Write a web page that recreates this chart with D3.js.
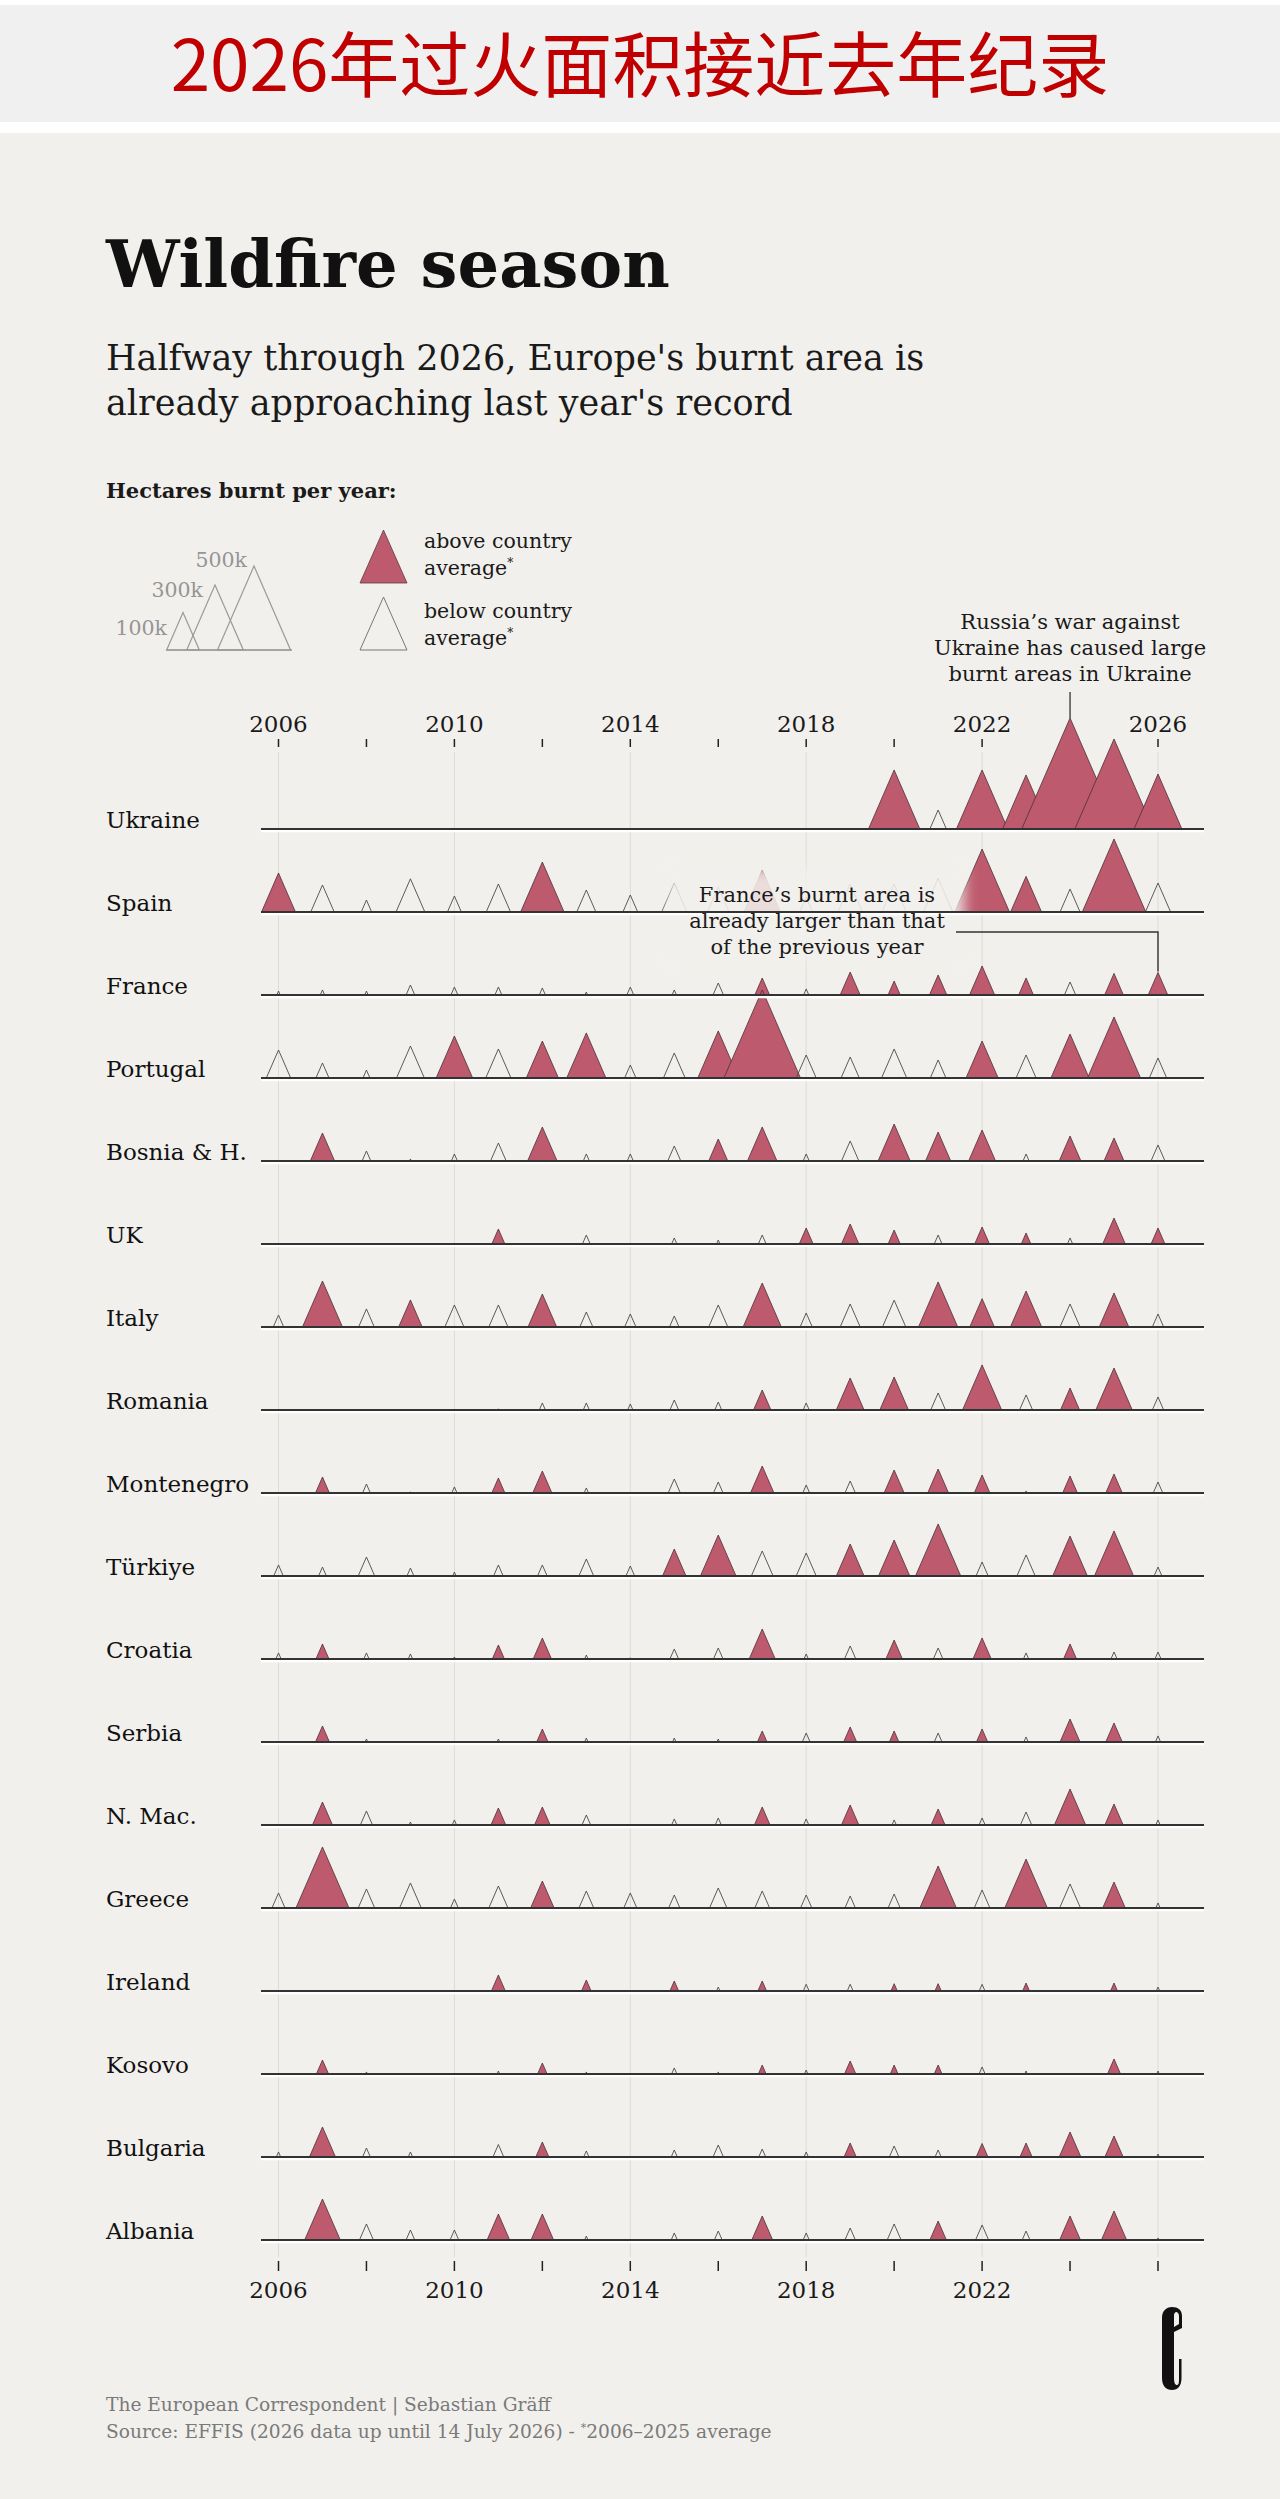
<!DOCTYPE html>
<html><head><meta charset="utf-8">
<script src="https://cdn.jsdelivr.net/npm/d3@7/dist/d3.min.js"></script>
<style>
html,body{margin:0;padding:0;background:#fff;}
svg{display:block;}
</style></head><body>
<svg id="chart" width="1280" height="2499"></svg>
<script>
// ---------------- DATA ----------------
const bannerTitle = "2026年过火面积接近去年纪录";
const title = "Wildfire season";
const subtitle = ["Halfway through 2026, Europe's burnt area is", "already approaching last year's record"];
const legendTitle = "Hectares burnt per year:";
const years = [2006,2007,2008,2009,2010,2011,2012,2013,2014,2015,2016,2017,2018,2019,2020,2021,2022,2023,2024,2025,2026];
const tickYears = [2006,2008,2010,2012,2014,2016,2018,2020,2022,2024,2026];
const topLabelYears = [2006,2010,2014,2018,2022,2026];
const bottomLabelYears = [2006,2010,2014,2018,2022];
const gridYears = [2006,2010,2014,2018,2022,2026];
const countries = ["Ukraine","Spain","France","Portugal","Bosnia & H.","UK","Italy","Romania","Montenegro","Türkiye","Croatia","Serbia","N. Mac.","Greece","Ireland","Kosovo","Bulgaria","Albania"];
// burnt area, thousand hectares, 2006..2026 (null = no data)
const burnt = [
  [null,null,null,null,null,null,null,null,null,null,null,null,null,null,247,25.6,247,207,874,574,214],
  [108,51.7,10.2,78,18.2,55.6,177,34.3,20.5,59.6,44,125,16,55.6,55.6,80,281,90,37.5,378,59.6],
  [1.1,1.8,1.1,7.1,4.5,4.5,3.5,0.64,4.5,1.8,10.2,20.5,2.6,37.5,13.9,28.4,59.6,20.5,12,33,36],
  [55.6,16,4.5,72.6,125,59.6,97,144,12,44.3,157,549,37.5,31.3,59.6,23,97,37.5,137,264,28.4],
  [0,55.6,7.1,0.3,3.5,23,82,3.5,3.5,16,34.3,82,3.5,28.4,97,59.6,68.1,3.5,44.3,37.5,18.2],
  [0,0,0,0,0,16,0,5.7,0,2.6,1.1,5.7,18.2,28.4,13.9,5.7,20.5,8.6,2.6,47.9,18.2],
  [10.2,150,23,52,34.3,34.3,77.2,16,12,8.6,34.3,137,13.9,37.5,51,144,57,91.9,37.5,82,12],
  [0,0,0,0,0,0.1,3.5,3.5,2.6,7.1,4.5,28.4,3.5,72.6,77.2,20.5,144,16,34.3,125,12],
  [0,18.2,5.7,0.1,2.6,16,34.3,1.8,0,13.9,8.6,51.7,4.5,10.2,37.5,40.8,23,0.3,20.5,25.6,8.6],
  [8.6,5.7,25.6,4.5,1.1,8.6,8.6,20.5,7.1,51.7,119,44.3,37.5,72.6,91.9,192,13.9,31.3,113,144,5.7],
  [2.6,16,2.6,1.8,0.3,13.9,31.3,1.1,0.1,7.1,8.6,63.8,1.8,12,25.6,8.6,31.3,2.6,16,3.5,3.5],
  [0,18.2,0.64,0,0,0.64,12,1.1,0,1.1,0.64,8.6,5.7,16,8.6,5.7,12,1.8,37.5,25.6,2.6],
  [0,37.5,13.9,0.64,1.8,20.5,23,7.1,0,2.6,3.5,23,2.6,28.4,1.8,18.2,3.5,12,91.9,31.3,1.8],
  [16,264,25.6,44.3,5.7,34.3,51.7,20.5,16,12,28.4,20.5,12,10.2,13.9,125,23,170,40.8,47.9,1.8],
  [0,0,0,0,0,18.2,0,8.6,0,7.1,1.1,7.1,3.2,3.2,3.8,3.8,3.2,4.5,0,4.5,1.1],
  [0,13.9,0.3,0,0,0.64,8.6,0.3,0,2.6,0.3,5.7,1.1,12,5.7,5.7,3.5,0.64,0,16,0.64],
  [1.8,63.8,5.7,1.8,0,11,16,2.6,0,3.5,10.2,4.5,1.8,13.9,8.6,3.5,13,13.9,44.3,31.3,0.64],
  [0,119,18.2,7.1,7.1,47.9,47.9,1.1,0,3.5,5.7,40.8,3.5,10.2,18.2,25.6,16,5.7,40.8,59.6,0.3]
];
// 1 = above the country's 2006-2025 average
const aboveAvg = [
  "000000000000001011111",
  "100000100001000011010",
  "000000000001011111011",
  "000010110011000010110",
  "010000100011001110110",
  "000001000000111011011",
  "010100100001000111010",
  "000000000001011010110",
  "010001100001001110110",
  "000000000110011100110",
  "010001100001001010100",
  "010000100001011010110",
  "010001100001010100110",
  "010000100000000101010",
  "000001010101001101010",
  "010000100001011100010",
  "010000100000010011110",
  "010001100001000100110"
];
const legendSizes = [100, 300, 500];
const legendSizeLabels = ["100k", "300k", "500k"];
const russiaNote = ["Russia’s war against", "Ukraine has caused large", "burnt areas in Ukraine"];
const franceNote = ["France’s burnt area is", "already larger than that", "of the previous year"];
const credit = "The European Correspondent | Sebastian Gräff";
const source = "Source: EFFIS (2026 data up until 14 July 2026) - ";
const sourceEnd = "2006–2025 average";

// ---------------- DRAW ----------------
const svg = d3.select("#chart");
const SERIF = "'DejaVu Serif', serif";
const BG = "#f2f0ec";
const RED = "#be5a6d";

svg.append("rect").attr("width",1280).attr("height",2499).attr("fill","#ffffff");
svg.append("rect").attr("x",0).attr("y",5).attr("width",1280).attr("height",117).attr("fill","#f0f0f0");
svg.append("rect").attr("x",0).attr("y",133).attr("width",1280).attr("height",2366).attr("fill",BG);

svg.append("text").attr("x",640).attr("y",91).attr("text-anchor","middle")
  .attr("font-family","'Noto Sans CJK SC', sans-serif").attr("font-size",71)
  .attr("fill","#c00000").text(bannerTitle);

svg.append("text").attr("x",106).attr("y",287).attr("font-family",SERIF)
  .attr("font-weight","bold").attr("font-size",65.5).attr("fill","#111").text(title);
subtitle.forEach((s,i)=>{
  svg.append("text").attr("x",106).attr("y",370+i*45).attr("font-family",SERIF)
    .attr("font-size",35).attr("fill","#1a1a1a").text(s);
});
svg.append("text").attr("x",106).attr("y",498).attr("font-family",SERIF)
  .attr("font-weight","bold").attr("font-size",21).attr("fill","#1a1a1a").text(legendTitle);

// scales
const x = d3.scaleLinear().domain([2006,2026]).range([278.5,1158]);
const y = d3.scalePoint().domain(countries).range([829, 829 + 83*(countries.length-1)]);
const hScale = d3.scaleSqrt().domain([0,500]).range([0,84]);
const RATIO = 0.87;
const tri = (cx, base, h) => {
  const w = h*RATIO;
  return `M${cx-w/2},${base}L${cx},${base-h}L${cx+w/2},${base}Z`;
};

// size legend
const legApex = [183, 215, 254];
const legBase = 650;
const lg = svg.append("g");
legendSizes.forEach((v,i)=>{
  lg.append("path").attr("d", tri(legApex[i], legBase, hScale(v)))
    .attr("fill","none").attr("stroke","#9a9a9a").attr("stroke-width",1.2);
});
lg.append("line").attr("x1",166).attr("x2",292).attr("y1",legBase).attr("y2",legBase)
  .attr("stroke","#9a9a9a").attr("stroke-width",1.4);
const legLabelPos = [[167,635],[203,597],[247,567]];
legendSizeLabels.forEach((t,i)=>{
  lg.append("text").attr("x",legLabelPos[i][0]).attr("y",legLabelPos[i][1])
    .attr("text-anchor","end").attr("font-family",SERIF).attr("font-size",20.5)
    .attr("fill","#959595").text(t);
});
// colour legend
lg.append("path").attr("d",`M360,583L383.5,530L407,583Z`).attr("fill",RED).attr("stroke","#5a3a40").attr("stroke-width",0.8);
lg.append("path").attr("d",`M360,650L383.5,597L407,650Z`).attr("fill","none").attr("stroke","#777").attr("stroke-width",1);
[["above country",548],["average",575],["below country",618],["average",645]].forEach(([t,yy],i)=>{
  const tx = lg.append("text").attr("x",424).attr("y",yy).attr("font-family",SERIF)
    .attr("font-size",20.5).attr("fill","#1a1a1a").text(t);
  if (i%2===1) tx.append("tspan").attr("font-size",12).attr("dy",-8).text("*");
});

// grid lines
const chartTop = 752, chartBottom = 2257;
svg.append("g").selectAll("line").data(gridYears).join("line")
  .attr("x1",d=>x(d)).attr("x2",d=>x(d)).attr("y1",chartTop).attr("y2",chartBottom)
  .attr("stroke","#dedbd6").attr("stroke-width",1);

// top axis
const topAxis = svg.append("g");
topAxis.selectAll("line").data(tickYears).join("line")
  .attr("x1",d=>x(d)).attr("x2",d=>x(d)).attr("y1",739).attr("y2",747)
  .attr("stroke","#222").attr("stroke-width",1.5);
topAxis.selectAll("text").data(topLabelYears).join("text")
  .attr("x",d=>x(d)).attr("y",732).attr("text-anchor","middle")
  .attr("font-family",SERIF).attr("font-size",23).attr("fill","#1a1a1a").text(d=>d);

// bottom axis
const botAxis = svg.append("g");
botAxis.selectAll("line").data(tickYears).join("line")
  .attr("x1",d=>x(d)).attr("x2",d=>x(d)).attr("y1",2261).attr("y2",2271)
  .attr("stroke","#222").attr("stroke-width",1.5);
botAxis.selectAll("text").data(bottomLabelYears).join("text")
  .attr("x",d=>x(d)).attr("y",2298).attr("text-anchor","middle")
  .attr("font-family",SERIF).attr("font-size",23).attr("fill","#1a1a1a").text(d=>d);

// triangles
const rows = svg.append("g");
countries.forEach((c,ci)=>{
  const base = y(c);
  const g = rows.append("g");
  const pts = years.map((yr,i)=>({yr, v: burnt[ci][i], up: aboveAvg[ci][i]==="1"}))
    .filter(d=>d.v!==null && d.v>0);
  g.selectAll("path").data(pts).join("path")
    .attr("d",d=>tri(x(d.yr), base, hScale(d.v)))
    .attr("fill",d=>d.up?RED:"none")
    .attr("stroke",d=>d.up?"#4a3036":"#4a4a4a")
    .attr("stroke-width",d=>d.up?0.8:0.9)
    .attr("stroke-linejoin","miter");
});

// fade behind France annotation
const defs = svg.append("defs");
defs.append("filter").attr("id","blur").attr("x","-20%").attr("y","-30%").attr("width","140%").attr("height","160%")
  .append("feGaussianBlur").attr("stdDeviation",7);
svg.append("rect").attr("x",668).attr("y",868).attr("width",296).attr("height",92)
  .attr("fill",BG).attr("opacity",0.88).attr("filter","url(#blur)");

// baselines + labels
countries.forEach((c)=>{
  const base = y(c);
  svg.append("line").attr("x1",261).attr("x2",1204).attr("y1",base+2).attr("y2",base+2)
    .attr("stroke","#ffffff").attr("stroke-width",2.5);
  svg.append("line").attr("x1",261).attr("x2",1204).attr("y1",base).attr("y2",base)
    .attr("stroke","#333").attr("stroke-width",2.2);
  svg.append("text").attr("x",106).attr("y",base-1).attr("font-family",SERIF)
    .attr("font-size",23).attr("fill","#111").text(c);
});

// Russia annotation
const uaIdx = countries.indexOf("Ukraine");
const ua24 = hScale(burnt[uaIdx][years.indexOf(2024)]);
russiaNote.forEach((t,i)=>{
  svg.append("text").attr("x",x(2024)).attr("y",629+i*26).attr("text-anchor","middle")
    .attr("font-family",SERIF).attr("font-size",21).attr("fill","#1a1a1a").text(t);
});
svg.append("line").attr("x1",x(2024)).attr("x2",x(2024)).attr("y1",692).attr("y2",y("Ukraine")-ua24)
  .attr("stroke","#333").attr("stroke-width",1.3);

// France annotation
const frIdx = countries.indexOf("France");
const fr26 = hScale(burnt[frIdx][years.indexOf(2026)]);
franceNote.forEach((t,i)=>{
  svg.append("text").attr("x",817).attr("y",902+i*26).attr("text-anchor","middle")
    .attr("font-family",SERIF).attr("font-size",21).attr("fill","#1a1a1a").text(t);
});
svg.append("path").attr("d",`M956,932H${x(2026)}V${y("France")-fr26-1}`)
  .attr("fill","none").attr("stroke","#333").attr("stroke-width",1.4);

// logo
svg.append("path").attr("transform","translate(1162,2307)")
  .attr("d","M0,11C0,4 4,0 10,0C16,0 20,3 20,9L20,21L12,25L12,70C12,76 13,78 15,78C17,78 17,75 17,70L17,52L19.5,52L19.5,71C19.5,79 16,83 10,83C4,83 0,79 0,71Z M12,9L12,20L17,17L17,9C17,6 15,5 14.5,5C13,5 12,6 12,9Z")
  .attr("fill","#111").attr("fill-rule","evenodd");

// footer
svg.append("text").attr("x",106).attr("y",2411).attr("font-family",SERIF)
  .attr("font-size",18.6).attr("fill","#7a7a7a").text(credit);
const src = svg.append("text").attr("x",106).attr("y",2438).attr("font-family",SERIF)
  .attr("font-size",18.6).attr("fill","#7a7a7a").text(source);
src.append("tspan").attr("font-size",11).attr("dy",-7).text("*");
src.append("tspan").attr("dy",7).text(sourceEnd);
</script>
</body></html>
